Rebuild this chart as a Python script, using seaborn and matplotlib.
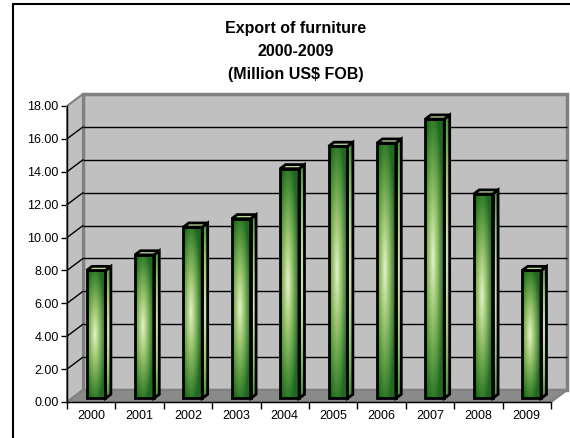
import numpy as np
import pandas as pd
import matplotlib
matplotlib.use("Agg")
import matplotlib.pyplot as plt
from matplotlib.patches import Polygon, Rectangle
from matplotlib.colors import LinearSegmentedColormap
import seaborn as sns

# ---- data -------------------------------------------------------------
years = ["2000", "2001", "2002", "2003", "2004",
         "2005", "2006", "2007", "2008", "2009"]
exports = [7.78, 8.73, 10.42, 10.93, 13.97, 15.33, 15.53, 16.99, 12.43, 7.78]
y_ticks = [0, 2, 4, 6, 8, 10, 12, 14, 16, 18]
title_lines = ["Export of furniture", "2000-2009", "(Million US$ FOB)"]

sns.set_theme(style="white")
plt.rcParams["font.family"] = ["Liberation Sans", "DejaVu Sans"]

FIG_W, FIG_H = 570, 438
fig = plt.figure(figsize=(FIG_W / 100, FIG_H / 100), dpi=100)
fig.patch.set_facecolor("white")

# front plane of the pseudo-3D plot area, in pixels
L, R, T, B = 67, 551, 106, 402
ax = fig.add_axes([L / FIG_W, 1 - B / FIG_H, (R - L) / FIG_W, (B - T) / FIG_H])
ax.patch.set_visible(False)

df = pd.DataFrame({"year": years, "value": exports})
sns.barplot(data=df, x="year", y="value", ax=ax, width=0.39,
            color="#2e7d2e", saturation=1)
bars = list(ax.patches)

ax.set_xlim(-0.5, 9.5)
ax.set_ylim(0, 18)

# depth of the chart box, in data units
PX_X = (R - L) / 10
PX_Y = (B - T) / 18
DX = 16 / PX_X
DY = 12 / PX_Y

wall_c = "#c0c0c0"
edge_c = "#808080"
floor_c = "#8a8a8a"

ax.add_patch(Polygon([(-0.5 + DX, DY), (9.5 + DX, DY), (9.5 + DX, 18 + DY),
                      (-0.5 + DX, 18 + DY)], closed=True, fc=wall_c, ec=edge_c,
                     lw=2.5, zorder=0.5, clip_on=False))
ax.add_patch(Polygon([(-0.5, 0), (-0.5 + DX, DY), (-0.5 + DX, 18 + DY), (-0.5, 18)],
                     closed=True, fc=wall_c, ec=edge_c, lw=1.5, zorder=0.6,
                     clip_on=False))
ax.add_patch(Polygon([(-0.5, 0), (9.5, 0), (9.5 + DX, DY), (-0.5 + DX, DY)],
                     closed=True, fc=floor_c, ec=edge_c, lw=1.5, zorder=0.7,
                     clip_on=False))

for v in y_ticks[1:-1]:
    ax.plot([-0.5 + DX, 9.5 + DX], [v + DY, v + DY], color="black", lw=1,
            zorder=0.8, clip_on=False, solid_capstyle="butt")
    ax.plot([-0.5, -0.5 + DX], [v, v + DY], color="black", lw=1,
            zorder=0.8, clip_on=False)

# ---- gradients for the column faces ----------------------------------
front_cmap = LinearSegmentedColormap.from_list(
    "front", ["#e4f2cf", "#a6c978", "#5f9c45", "#1d6a1d"])
side_cmap = LinearSegmentedColormap.from_list(
    "side", ["#d2eab4", "#8fc46c", "#3f8c33"])

u = np.linspace(0, 1, 60)[None, :]
w = np.linspace(0, 1, 160)[:, None]
du = np.abs(u - 0.42) / 0.58
dv = np.abs(w - 0.5) / 0.5
front_img = front_cmap(np.clip(np.sqrt(du ** 2 + 0.8 * dv ** 2), 0, 1))
side_t = np.clip(0.35 * np.abs(u - 0.3) + 0.9 * dv ** 1.5, 0, 1)
side_img = side_cmap(side_t)

F = 0.30   # front face position inside the depth
BD = 0.34  # column depth

for p in bars:
    x0 = p.get_x() + F * DX
    wdt = p.get_width()
    h = p.get_height()
    y0 = F * DY
    p.set_x(x0)
    p.set_y(y0)
    p.set_facecolor("none")
    p.set_edgecolor("black")
    p.set_linewidth(2)
    p.set_zorder(6)
    p.set_joinstyle("miter")
    im = ax.imshow(front_img, extent=(x0, x0 + wdt, y0, y0 + h), aspect="auto",
                   zorder=5, interpolation="bilinear")
    im.set_clip_path(p)

    sx = x0 + wdt
    ox, oy = BD * DX, BD * DY
    side = Polygon([(sx, y0), (sx + ox, y0 + oy), (sx + ox, y0 + h + oy),
                    (sx, y0 + h)], closed=True, fc="#7fb860", ec="black",
                   lw=2, zorder=6, joinstyle="miter")
    ax.add_patch(side)
    sim = ax.imshow(side_img, extent=(sx, sx + ox, y0, y0 + h + oy),
                    aspect="auto", zorder=5, interpolation="bilinear")
    sim.set_clip_path(side)
    side.set_facecolor("none")

    top = Polygon([(x0, y0 + h), (sx, y0 + h), (sx + ox, y0 + h + oy),
                   (x0 + ox, y0 + h + oy)], closed=True, fc="#b9da9b",
                  ec="black", lw=2, zorder=6, joinstyle="miter")
    ax.add_patch(top)

ax.set_xlim(-0.5, 9.5)
ax.set_ylim(0, 18)

# ---- axes ---------------------------------------------------------------
for s in ("top", "right"):
    ax.spines[s].set_visible(False)
for s in ("left", "bottom"):
    ax.spines[s].set_color("black")
    ax.spines[s].set_linewidth(1)
    ax.spines[s].set_zorder(7)

ax.set_yticks(y_ticks)
ax.set_yticklabels([f"{v:.2f}" for v in y_ticks])
ax.set_xticks(np.arange(-0.5, 10, 1), minor=True)
ax.tick_params(axis="y", left=True, direction="out", length=4, width=1,
               color="black", labelsize=9, pad=2, labelcolor="black")
ax.tick_params(axis="x", which="major", bottom=True, length=0, labelsize=9,
               pad=6, labelcolor="black")
ax.tick_params(axis="x", which="minor", bottom=True, direction="out",
               length=5, width=1, color="black")
ax.set_xlabel("")
ax.set_ylabel("")

# ---- title and chart frame --------------------------------------------
for txt, ypix in zip(title_lines, [29, 51, 74]):
    fig.text(296 / FIG_W, 1 - ypix / FIG_H, txt, ha="center", va="center",
             fontsize=11.5, fontweight="bold", color="black")

fig.add_artist(Rectangle((12.5, -20), 700, FIG_H - 3.5 + 20, transform=None,
                         fill=False, ec="black", lw=1.5, clip_on=False))

fig.savefig("out.png", dpi=100)
